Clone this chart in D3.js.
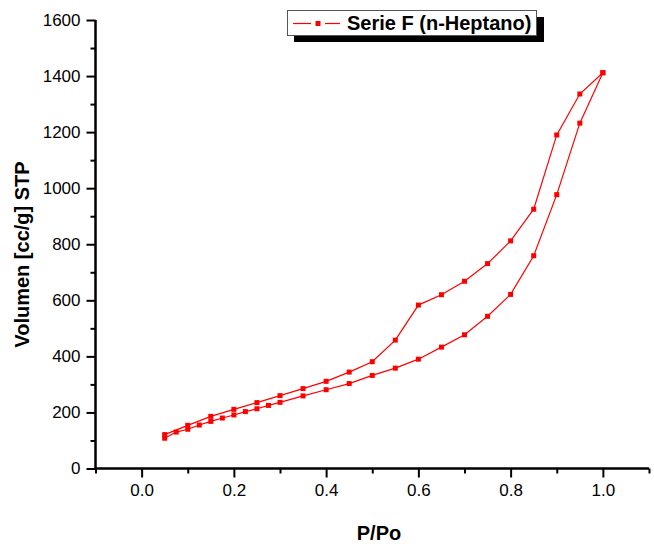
<!DOCTYPE html>
<html>
<head>
<meta charset="utf-8">
<script src="https://cdn.jsdelivr.net/npm/d3@7"></script>
<style>
  html, body { margin: 0; padding: 0; background: #fff; }
  svg { display: block; font-family: "Liberation Sans", Arial, sans-serif; }
</style>
</head>
<body>
<svg id="chart" width="654" height="547"></svg>
<script>
// Relative pressure P/Po for each branch of the isotherm
const adsorptionP = [0.05, 0.075, 0.1, 0.125, 0.15, 0.175, 0.2, 0.225, 0.25, 0.275, 0.3, 0.35, 0.4, 0.45, 0.5, 0.55, 0.6, 0.65, 0.7, 0.75, 0.8, 0.85, 0.9, 0.95, 1.0];
const adsorptionV = [108, 130, 140, 155, 168, 180, 191, 203, 213, 225, 236, 259, 281, 303, 332, 358, 390, 433, 477, 543, 621, 759, 977, 1232, 1412];
const desorptionP = [1.0, 0.95, 0.9, 0.85, 0.8, 0.75, 0.7, 0.65, 0.6, 0.55, 0.5, 0.45, 0.4, 0.35, 0.3, 0.25, 0.2, 0.15, 0.1, 0.05];
const desorptionV = [1412, 1336, 1190, 925, 812, 731, 668, 620, 583, 458, 381, 344, 311, 285, 260, 235, 211, 186, 154, 121];

const xTicks = [0.0, 0.2, 0.4, 0.6, 0.8, 1.0];
const xMinor = [-0.1, 0.1, 0.3, 0.5, 0.7, 0.9, 1.1];
const yTicks = [0, 200, 400, 600, 800, 1000, 1200, 1400, 1600];
const yMinor = [100, 300, 500, 700, 900, 1100, 1300, 1500];

const seriesName = "Serie F (n-Heptano)";
const xTitle = "P/Po";
const yTitle = "Volumen [cc/g] STP";

const svg = d3.select("#chart");
const plotL = 95.5, plotR = 649, plotT = 20, plotB = 468.5;

const x = d3.scaleLinear().domain([-0.1, 1.1]).range([plotL, plotR]);
const y = d3.scaleLinear().domain([0, 1600]).range([plotB, plotT]);

const red = "#ff0000";

// Axes (major and minor ticks pointing outward)
const xAxis = svg.append("g").attr("transform", `translate(0,${plotB})`)
  .call(d3.axisBottom(x).tickValues(xTicks).tickFormat(d3.format(".1f")).tickSize(9).tickPadding(6));
const xAxisMinor = svg.append("g").attr("transform", `translate(0,${plotB})`)
  .call(d3.axisBottom(x).tickValues(xMinor).tickFormat("").tickSize(5));
const yAxis = svg.append("g").attr("transform", `translate(${plotL},0)`)
  .call(d3.axisLeft(y).tickValues(yTicks).tickFormat(d3.format("d")).tickSize(9).tickPadding(6));
const yAxisMinor = svg.append("g").attr("transform", `translate(${plotL},0)`)
  .call(d3.axisLeft(y).tickValues(yMinor).tickFormat("").tickSize(5));

[xAxis, xAxisMinor].forEach(g => g.select(".domain").attr("d", `M${plotL},0H${plotR}`));
[yAxis, yAxisMinor].forEach(g => g.select(".domain").attr("d", `M0,${plotB}V${plotT}`));
[xAxis, xAxisMinor, yAxis, yAxisMinor].forEach(g => {
  g.select(".domain").attr("stroke", "#000").attr("stroke-width", 2);
  g.selectAll(".tick line").attr("stroke", "#000").attr("stroke-width", 2);
  g.selectAll(".tick text").attr("fill", "#000").attr("font-size", 17)
    .attr("font-family", "'Liberation Sans', Arial, sans-serif");
});

// Isotherm: adsorption branch then desorption branch back down
const adsPts = adsorptionP.map((p, i) => [p, adsorptionV[i]]);
const desPts = desorptionP.map((p, i) => [p, desorptionV[i]]);
const line = d3.line().x(d => x(d[0])).y(d => y(d[1]));
svg.append("path").datum(adsPts.concat(desPts.slice(1))).attr("d", line)
  .attr("fill", "none").attr("stroke", red).attr("stroke-width", 1.2);

svg.append("g").selectAll("rect").data(adsPts.concat(desPts)).join("rect")
  .attr("x", d => x(d[0]) - 2.5).attr("y", d => y(d[1]) - 2.5)
  .attr("width", 5).attr("height", 5).attr("fill", red);

// Axis titles
svg.append("text").attr("x", 379).attr("y", 540).attr("text-anchor", "middle")
  .attr("font-size", 20).attr("font-weight", "bold").text(xTitle);
svg.append("text").attr("transform", "translate(28.5,254.5) rotate(-90)").attr("text-anchor", "middle")
  .attr("font-size", 20).attr("font-weight", "bold").text(yTitle);

// Legend with drop shadow
const lg = svg.append("g");
lg.append("rect").attr("x", 294).attr("y", 17).attr("width", 250).attr("height", 25).attr("fill", "#000");
lg.append("rect").attr("x", 287.5).attr("y", 10.5).attr("width", 249).attr("height", 25)
  .attr("fill", "#fff").attr("stroke", "#555").attr("stroke-width", 1);
lg.append("line").attr("x1", 293).attr("x2", 311).attr("y1", 23.5).attr("y2", 23.5).attr("stroke", red).attr("stroke-width", 1.2);
lg.append("line").attr("x1", 325).attr("x2", 340).attr("y1", 23.5).attr("y2", 23.5).attr("stroke", red).attr("stroke-width", 1.2);
lg.append("rect").attr("x", 315.5).attr("y", 21).attr("width", 5).attr("height", 5).attr("fill", red);
lg.append("text").attr("x", 347).attr("y", 29.5).attr("font-size", 20).attr("font-weight", "bold").text(seriesName);
</script>
</body>
</html>
